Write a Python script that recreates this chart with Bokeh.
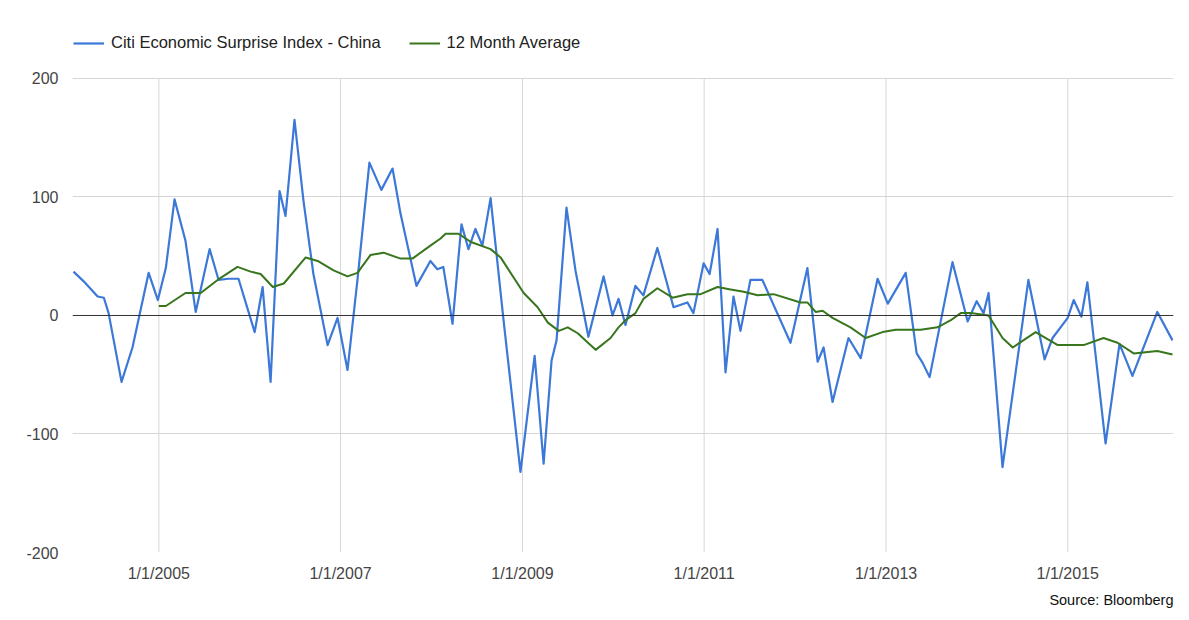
import pandas as pd
from bokeh.plotting import figure
from bokeh.models import (FixedTicker, Span, Legend, LegendItem, Title, Range1d)
from bokeh.embed import file_html
from bokeh.resources import INLINE

# ---------------- data ----------------
surprise_dates = [
    "2004-01-24", "2004-03-04", "2004-04-30", "2004-05-25", "2004-06-13", "2004-08-04",
    "2004-09-17", "2004-11-21", "2004-12-28", "2005-01-29", "2005-03-05", "2005-04-18",
    "2005-05-29", "2005-07-24", "2005-08-29", "2005-10-08", "2005-11-17", "2006-01-21",
    "2006-02-22", "2006-03-26", "2006-05-01", "2006-05-25", "2006-06-30", "2006-08-05",
    "2006-09-14", "2006-11-10", "2006-12-20", "2007-01-29", "2007-03-10", "2007-04-27",
    "2007-06-14", "2007-07-29", "2007-08-30", "2007-11-02", "2007-12-28", "2008-01-25",
    "2008-02-18", "2008-03-26", "2008-05-01", "2008-05-29", "2008-06-26", "2008-07-24",
    "2008-08-26", "2008-10-17", "2008-12-24", "2009-02-19", "2009-03-27", "2009-04-28",
    "2009-05-18", "2009-06-27", "2009-08-02", "2009-09-23", "2009-11-23", "2009-12-29",
    "2010-01-22", "2010-02-19", "2010-03-31", "2010-05-02", "2010-06-27", "2010-08-31",
    "2010-10-26", "2010-11-19", "2010-12-30", "2011-01-23", "2011-02-24", "2011-03-28",
    "2011-04-29", "2011-05-27", "2011-07-06", "2011-08-23", "2011-12-14", "2012-02-20",
    "2012-04-01", "2012-04-25", "2012-05-31", "2012-08-03", "2012-09-21", "2012-11-28",
    "2013-01-08", "2013-03-21", "2013-05-04", "2013-05-28", "2013-06-25", "2013-09-25",
    "2013-11-25", "2013-12-31", "2014-01-28", "2014-02-17", "2014-04-14", "2014-07-27",
    "2014-09-30", "2014-11-01", "2015-01-01", "2015-01-25", "2015-02-25", "2015-03-21",
    "2015-06-02", "2015-07-28", "2015-09-18", "2015-12-27", "2016-02-26",
]
surprise_values = [
    37, 29, 16, 15, 2, -56,
    -27, 36, 13, 40, 98, 63,
    3, 56, 30, 31, 31, -14,
    24, -56, 105, 84, 165, 97,
    35, -25, -2, -46, 30, 129,
    106, 124, 86, 25, 46, 39,
    41, -7, 77, 56, 73, 59,
    99, -4, -132, -34, -125, -38,
    -21, 91, 38, -18, 33, 0,
    14, -8, 25, 17, 57, 7,
    11, 2, 44, 35, 73, -48,
    16, -13, 30, 30, -23, 40,
    -39, -27, -73, -19, -36, 31,
    10, 36, -32, -40, -52, 45,
    -5, 12, 2, 19, -128, 30,
    -37, -19, -2, 13, -1, 28,
    -108, -24, -51, 3, -21,
]

average_dates = [
    "2005-01-01", "2005-01-29", "2005-04-18", "2005-06-18", "2005-08-25", "2005-11-13",
    "2006-01-05", "2006-02-14", "2006-04-04", "2006-05-18", "2006-08-14", "2006-10-01",
    "2006-12-04", "2007-01-29", "2007-03-10", "2007-05-01", "2007-06-23", "2007-08-30",
    "2007-10-17", "2007-12-28", "2008-02-07", "2008-02-27", "2008-04-19", "2008-06-08",
    "2008-08-26", "2008-10-05", "2009-01-06", "2009-03-03", "2009-04-13", "2009-05-27",
    "2009-07-02", "2009-08-11", "2009-10-22", "2009-12-21", "2010-01-22", "2010-02-19",
    "2010-03-31", "2010-05-02", "2010-06-27", "2010-08-27", "2010-10-26", "2010-12-18",
    "2011-02-24", "2011-04-17", "2011-06-09", "2011-08-04", "2011-10-07", "2012-01-23",
    "2012-02-20", "2012-03-24", "2012-04-21", "2012-05-31", "2012-08-11", "2012-10-11",
    "2012-12-18", "2013-02-09", "2013-05-20", "2013-07-27", "2013-09-18", "2013-10-28",
    "2013-12-07", "2014-02-17", "2014-04-14", "2014-05-25", "2014-08-25", "2014-11-22",
    "2015-03-06", "2015-05-25", "2015-07-20", "2015-09-23", "2015-12-27", "2016-02-26",
]
average_values = [
    8, 8, 19, 19, 30, 41,
    37, 35, 24, 27, 49, 46,
    38, 33, 36, 51, 53, 48,
    48, 59, 65, 69, 69, 62,
    56, 49, 19, 7, -6, -13,
    -10, -15, -29, -19, -10, -4,
    2, 14, 23, 15, 18, 18,
    24, 22, 20, 17, 18, 11,
    11, 3, 4, -2, -10, -19,
    -14, -12, -12, -10, -4, 2,
    2, 0, -19, -27, -14, -25,
    -25, -19, -23, -32, -30, -33,
]

tick_dates = ["2005-01-01", "2007-01-01", "2009-01-01", "2011-01-01", "2013-01-01", "2015-01-01"]
tick_labels = ["1/1/2005", "1/1/2007", "1/1/2009", "1/1/2011", "1/1/2013", "1/1/2015"]
y_ticks = [-200, -100, 0, 100, 200]

series_names = ["Citi Economic Surprise Index - China", "12 Month Average"]
source_text = "Source: Bloomberg"

# ---------------- figure ----------------
FONT = "Liberation Sans"
BLUE = "#3c78d8"
GREEN = "#38761d"
GRID = "#d6d6d6"

x_surprise = pd.to_datetime(surprise_dates)
x_average = pd.to_datetime(average_dates)
tick_ms = [pd.Timestamp(d).value / 1e6 for d in tick_dates]

# frame spans from the legend row down to -200; the top of the value scale is
# extended so that the legend can sit inside the frame (above the 200 line)
p = figure(width=1181, height=618, x_axis_type="datetime",
           output_backend="svg", toolbar_location=None,
           min_border_left=72, min_border_right=8, min_border_top=25,
           min_border_bottom=66)
p.x_range = Range1d(pd.Timestamp("2004-01-20"), pd.Timestamp("2016-03-01"))
p.y_range = Range1d(min(y_ticks), max(y_ticks) + 44.7)
p.outline_line_color = None
p.background_fill_color = "white"
p.border_fill_color = "white"

# vertical grid lines limited to the value scale
p.segment(x0=tick_ms, y0=[min(y_ticks)] * len(tick_ms),
          x1=tick_ms, y1=[max(y_ticks)] * len(tick_ms),
          line_color=GRID, line_width=1)

r_blue = p.line(x_surprise, surprise_values, line_color=BLUE, line_width=2.2,
                line_join="round")
r_green = p.line(x_average, average_values, line_color=GREEN, line_width=2,
                 line_join="round")

# axes
xa = p.xaxis[0]
xa.ticker = FixedTicker(ticks=tick_ms)
xa.major_label_overrides = {t: lab for t, lab in zip(tick_ms, tick_labels)}
ya = p.yaxis[0]
ya.ticker = FixedTicker(ticks=y_ticks)
ya.major_label_overrides = {t: str(t) for t in y_ticks}
for ax in (xa, ya):
    ax.axis_line_color = None
    ax.major_tick_line_color = None
    ax.minor_tick_line_color = None
    ax.major_label_text_font = FONT
    ax.major_label_text_font_size = "16px"
    ax.major_label_text_color = "#444444"
xa.major_label_standoff = 6
ya.major_label_standoff = 8

p.xgrid.visible = False
p.ygrid.ticker = FixedTicker(ticks=[t for t in y_ticks if t != 0])
p.ygrid.grid_line_color = GRID

p.add_layout(Span(location=0, dimension="width", line_color="#333333", line_width=1))

legend = Legend(items=[LegendItem(label=series_names[0], renderers=[r_blue]),
                       LegendItem(label=series_names[1], renderers=[r_green])],
                orientation="horizontal", location=(1, 500),
                label_text_font=FONT, label_text_font_size="16.5px",
                label_text_color="#222222", border_line_color=None,
                background_fill_alpha=0, glyph_width=31, glyph_height=16,
                label_standoff=7, spacing=28, padding=0, margin=0)
p.add_layout(legend)

src = Title(text=source_text, align="right", text_font=FONT,
            text_font_size="14.5px", text_font_style="normal",
            text_color="#111111", standoff=10)
p.add_layout(src, "below")

open("out.html", "w").write(file_html(p, INLINE))
